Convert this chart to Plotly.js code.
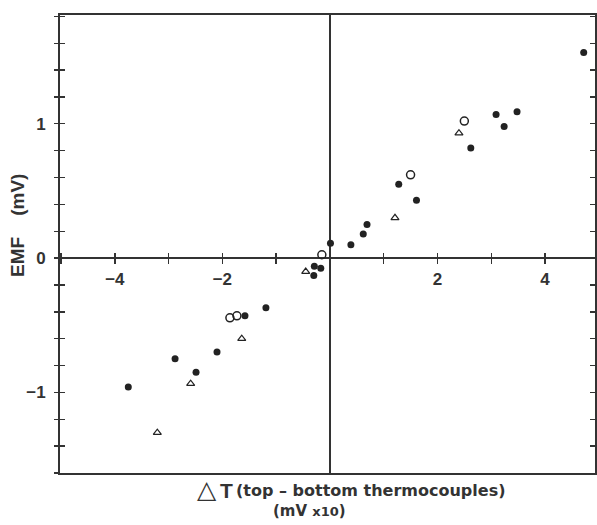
<!DOCTYPE html>
<html>
<head>
<meta charset="utf-8">
<script src="https://cdn.plot.ly/plotly-3.0.1.min.js"></script>
<style>html,body{margin:0;padding:0;background:#fff;}#chart{width:597px;height:525px;}</style>
</head>
<body>
<div id="chart"></div>
<script>
// Filled circles
const filledX = [4.72, 3.09, 3.48, 3.24, 2.62, 1.28, 1.61, 0.69, 0.62, 0.39, 0.01, -0.29, -0.17, -0.30, -1.19, -1.58, -2.10, -2.88, -2.49, -3.75];
const filledY = [1.53, 1.07, 1.09, 0.98, 0.82, 0.55, 0.43, 0.25, 0.18, 0.10, 0.11, -0.06, -0.075, -0.13, -0.37, -0.43, -0.70, -0.75, -0.85, -0.96];
// Open circles
const openX = [1.50, 2.50, -0.15, -1.86, -1.73];
const openY = [0.62, 1.02, 0.025, -0.445, -0.43];
// Open triangles
const triX = [1.21, 2.40, -0.45, -1.64, -2.59, -3.21];
const triY = [0.30, 0.93, -0.10, -0.60, -0.935, -1.30];

// Axis ticks
const xTickVals = [-5, -4, -3, -2, -1, 1, 2, 3, 4];
const xTickText = ['', '\u22124', '', '\u22122', '', '', '2', '', '4'];
const yTickVals = [-1.6, -1.4, -1.2, -1.0, -0.8, -0.6, -0.4, -0.2, 0, 0.2, 0.4, 0.6, 0.8, 1.0, 1.2, 1.4, 1.6, 1.8];
const yTickText = ['', '', '', '\u22121', '', '', '', '', '0', '', '', '', '', '1', '', '', '', ''];

const xRange = [-5.02, 4.93];
const yRange = [-1.60, 1.81];
const ink = '#333333';
const zeroPos = (0 - yRange[0]) / (yRange[1] - yRange[0]);

const traces = [
  {x: filledX, y: filledY, type: 'scatter', mode: 'markers',
   marker: {symbol: 'circle', size: 7, color: '#222'}, hoverinfo: 'none'},
  {x: openX, y: openY, type: 'scatter', mode: 'markers',
   marker: {symbol: 'circle-open', size: 8, color: '#222', line: {width: 1.5}}, hoverinfo: 'none'},
  {x: triX, y: triY, type: 'scatter', mode: 'markers',
   marker: {symbol: 'triangle-up-open', size: 7, color: '#222', line: {width: 1.2}}, hoverinfo: 'none'},
  {x: [], y: [], type: 'scatter', mode: 'markers', xaxis: 'x2', yaxis: 'y', hoverinfo: 'none'},
  {x: [], y: [], type: 'scatter', mode: 'markers', xaxis: 'x3', yaxis: 'y', hoverinfo: 'none'},
  {x: [], y: [], type: 'scatter', mode: 'markers', xaxis: 'x', yaxis: 'y2', hoverinfo: 'none'}
];

const tickFont = {family: 'Liberation Sans, Arial, sans-serif', size: 17, color: '#333', weight: 'bold'};

const layout = {
  width: 597, height: 525,
  margin: {l: 60, r: 2, t: 15, b: 52},
  paper_bgcolor: '#fff', plot_bgcolor: '#fff',
  showlegend: false,
  xaxis: {range: xRange, showline: true, mirror: true, linecolor: ink, linewidth: 1.6,
          showgrid: false, zeroline: true, zerolinecolor: ink, zerolinewidth: 1.6,
          ticks: '', showticklabels: false, fixedrange: true},
  xaxis2: {range: xRange, overlaying: 'x', anchor: 'free', position: zeroPos,
           showline: false, showgrid: false, zeroline: false,
           tickmode: 'array', tickvals: xTickVals, ticktext: xTickText,
           ticks: 'outside', ticklen: 5, tickwidth: 1.4, tickcolor: ink,
           tickfont: tickFont, ticklabelstandoff: 0},
  xaxis3: {range: xRange, overlaying: 'x', anchor: 'free', position: zeroPos,
           showline: false, showgrid: false, zeroline: false,
           tickmode: 'array', tickvals: xTickVals, ticktext: xTickVals.map(() => ''),
           ticks: 'inside', ticklen: 5, tickwidth: 1.4, tickcolor: ink, showticklabels: false},
  yaxis: {range: yRange, showline: true, mirror: 'ticks', linecolor: ink, linewidth: 1.6,
          showgrid: false, zeroline: true, zerolinecolor: ink, zerolinewidth: 1.6,
          tickmode: 'array', tickvals: yTickVals, ticktext: yTickVals.map(() => ''),
          ticks: 'inside', ticklen: 5, tickwidth: 1.4, tickcolor: ink, showticklabels: false, fixedrange: true},
  yaxis2: {range: yRange, overlaying: 'y', side: 'left', anchor: 'x',
           showline: false, showgrid: false, zeroline: false,
           tickmode: 'array', tickvals: yTickVals, ticktext: yTickText,
           ticks: 'outside', ticklen: 5, tickwidth: 1.4, tickcolor: ink,
           tickfont: tickFont, ticklabelstandoff: 5},
  annotations: [
    {xref: 'paper', yref: 'paper', x: (17 - 60) / 535, y: (473 - 226) / 458,
     text: 'EMF\u00a0\u00a0\u00a0\u00a0(mV)', textangle: -90, showarrow: false,
     xanchor: 'center', yanchor: 'middle',
     font: {family: 'Liberation Sans, Arial, sans-serif', size: 19, color: '#333', weight: 'bold'}},
    {xref: 'paper', yref: 'paper', x: (207 - 60) / 535, y: (473 - 489) / 458,
     text: '\u25B3', showarrow: false, xanchor: 'center', yanchor: 'middle',
     font: {family: 'DejaVu Sans, sans-serif', size: 25, color: '#333', weight: 'bold'}},
    {xref: 'paper', yref: 'paper', x: (226 - 60) / 535, y: (473 - 490) / 458,
     text: 'T', showarrow: false, xanchor: 'center', yanchor: 'middle',
     font: {family: 'Liberation Sans, Arial, sans-serif', size: 21, color: '#333', weight: 'bold'}},
    {xref: 'paper', yref: 'paper', x: (370 - 60) / 535, y: (473 - 490) / 458,
     text: '(top \u2013 bottom thermocouples)', showarrow: false, xanchor: 'center', yanchor: 'middle',
     font: {family: 'DejaVu Sans, sans-serif', size: 16, color: '#333', weight: 'bold'}},
    {xref: 'paper', yref: 'paper', x: (309 - 60) / 535, y: (473 - 511) / 458,
     text: '(mV <span style="font-size:13px">x10</span>)', showarrow: false, xanchor: 'center', yanchor: 'middle',
     font: {family: 'DejaVu Sans, sans-serif', size: 15, color: '#333', weight: 'bold'}}
  ]
};

Plotly.newPlot('chart', traces, layout, {staticPlot: true, displayModeBar: false});
</script>
</body>
</html>
